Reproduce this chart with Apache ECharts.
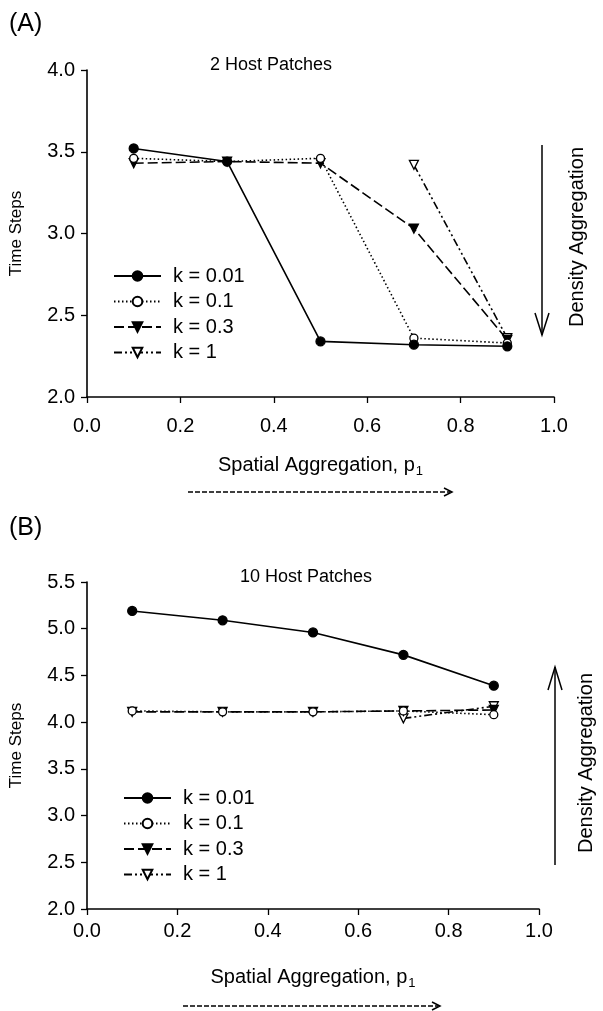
<!DOCTYPE html>
<html>
<head>
<meta charset="utf-8">
<script src="https://cdn.jsdelivr.net/npm/echarts@6/dist/echarts.min.js"></script>
<style>html,body{margin:0;padding:0;background:#fff;}#c{width:603px;height:1011px;}</style>
</head>
<body>
<div id="c"></div>
<script>
// ---- data ----
var xValues = [0.1, 0.3, 0.5, 0.7, 0.9];
var seriesNames = ['k = 0.01', 'k = 0.1', 'k = 0.3', 'k = 1'];
// Panel A: 2 Host Patches
var a_k001 = [3.52, 3.44, 2.34, 2.32, 2.31];
var a_k01  = [3.46, 3.44, 3.46, 2.36, 2.33];
var a_k03  = [3.43, 3.44, 3.43, 3.03, 2.35];
var a_k1   = [null, null, null, 3.42, 2.36];
// Panel B: 10 Host Patches
var b_k001 = [5.19, 5.09, 4.96, 4.72, 4.39];
var b_k01  = [4.12, 4.11, 4.11, 4.12, 4.08];
var b_k03  = [4.11, 4.11, 4.11, 4.12, 4.13];
var b_k1   = [null, null, null, 4.04, 4.17];

var FONT = 'Liberation Sans, Arial, sans-serif';

function pairs(vals){
  return xValues.map(function(x,i){ return vals[i]==null ? null : [x, vals[i]]; }).filter(function(p){return p;});
}

var styles = [
  {symbol:'circle', size:9, fill:'#000', dash:'solid'},
  {symbol:'circle', size:8, fill:'#fff', dash:[1.5,2.5]},
  {symbol:'triangle', size:9, fill:'#000', dash:[10,4]},
  {symbol:'triangle', size:9, fill:'#fff', dash:[8,3,2,3,2,3]}
];

function mkSeries(name, idx, vals, axisIdx){
  var s = styles[idx];
  return {
    name: name, type:'line', xAxisIndex:axisIdx, yAxisIndex:axisIdx,
    data: pairs(vals),
    symbol: s.symbol, symbolSize: s.size,
    symbolRotate: s.symbol==='triangle' ? 180 : 0,
    showAllSymbol: true,
    lineStyle: {color:'#000', width:1.6, type: s.dash},
    itemStyle: {color: s.fill, borderColor:'#000', borderWidth:1.3},
    emphasis: {disabled:true},
    animation:false,
    z: 10 - idx
  };
}

var series = [];
[a_k001,a_k01,a_k03,a_k1].forEach(function(v,i){ series.push(mkSeries(seriesNames[i], i, v, 0)); });
[b_k001,b_k01,b_k03,b_k1].forEach(function(v,i){ series.push(mkSeries(seriesNames[i], i, v, 1)); });

function xAxisCfg(grid, margin, nameGap){
  return {
    type:'value', gridIndex:grid, min:0, max:1, interval:0.2,
    axisLine:{show:true, onZero:false, lineStyle:{color:'#000', width:1.6}},
    axisTick:{show:true, inside:false, length:6, lineStyle:{color:'#000', width:1.3}},
    axisLabel:{color:'#000', fontSize:20, fontFamily:FONT, margin:margin,
      formatter:function(v){ return v.toFixed(1); }},
    splitLine:{show:false},
    name:'Spatial Aggregation, p{sub|1}', nameLocation:'middle', nameGap:nameGap,
    nameTextStyle:{color:'#000', fontSize:20, fontFamily:FONT,
      rich:{sub:{fontSize:13, fontFamily:FONT, color:'#000', padding:[12,0,0,1]}}}
  };
}
function yAxisCfg(grid, min, max){
  return {
    type:'value', gridIndex:grid, min:min, max:max, interval:0.5,
    axisLine:{show:true, onZero:false, lineStyle:{color:'#000', width:1.6}},
    axisTick:{show:true, inside:false, length:6, lineStyle:{color:'#000', width:1.3}},
    axisLabel:{color:'#000', fontSize:20, fontFamily:FONT, margin:12,
      formatter:function(v){ return v.toFixed(1); }},
    splitLine:{show:false},
    name:'Time Steps', nameLocation:'middle', nameGap:62,
    nameTextStyle:{color:'#000', fontSize:17, fontFamily:FONT}
  };
}

function legendCfg(left, top){
  return {
    orient:'vertical', left:left, top:top, padding:0,
    data: seriesNames,
    itemWidth:47, itemHeight:12, itemGap:5.5,
    selectedMode:false,
    textStyle:{color:'#000', fontSize:20, fontFamily:FONT, padding:[0,0,0,7]}
  };
}

function arrowChevron(x, y){ // right-pointing chevron at tip (x,y)
  return {type:'polyline', shape:{points:[[x-8,y-4],[x,y],[x-8,y+4]]}, style:{stroke:'#000', lineWidth:1.5, fill:null}};
}

var graphic = [
  {type:'text', left:9, top:12, style:{text:'(A)', font:'25px '+FONT, fill:'#000'}},
  {type:'text', left:9, top:516, style:{text:'(B)', font:'25px '+FONT, fill:'#000'}},
  {type:'text', x:271, y:65, style:{text:'2 Host Patches', font:'18px '+FONT, fill:'#000', align:'center', verticalAlign:'middle'}},
  {type:'text', x:306, y:577, style:{text:'10 Host Patches', font:'18px '+FONT, fill:'#000', align:'center', verticalAlign:'middle'}},
  {type:'text', x:577, y:237, rotation:Math.PI/2, style:{text:'Density Aggregation', font:'20px '+FONT, fill:'#000', align:'center', verticalAlign:'middle'}},
  {type:'text', x:586, y:763, rotation:Math.PI/2, style:{text:'Density Aggregation', font:'20px '+FONT, fill:'#000', align:'center', verticalAlign:'middle'}},
  // panel A down arrow
  {type:'line', shape:{x1:542, y1:145, x2:542, y2:335}, style:{stroke:'#000', lineWidth:1.5}},
  {type:'polyline', shape:{points:[[535,313],[542,335],[549,313]]}, style:{stroke:'#000', lineWidth:1.5, fill:null}},
  // panel B up arrow
  {type:'line', shape:{x1:555, y1:667, x2:555, y2:865}, style:{stroke:'#000', lineWidth:1.5}},
  {type:'polyline', shape:{points:[[548,690],[555,667],[562,690]]}, style:{stroke:'#000', lineWidth:1.5, fill:null}},
  // dashed arrows under x axes
  {type:'line', shape:{x1:188, y1:492, x2:450, y2:492}, style:{stroke:'#000', lineWidth:1.3, lineDash:[5,2]}},
  arrowChevron(452, 492),
  {type:'line', shape:{x1:183, y1:1006, x2:438, y2:1006}, style:{stroke:'#000', lineWidth:1.3, lineDash:[5,2]}},
  arrowChevron(440, 1006)
];

var option = {
  backgroundColor:'#fff',
  animation:false,
  grid:[
    {left:84, top:70, width:470, height:327, containLabel:false},
    {left:84, top:582, width:455, height:327, containLabel:false}
  ],
  xAxis:[xAxisCfg(0, 19, 56), xAxisCfg(1, 12, 56)],
  yAxis:[yAxisCfg(0, 2, 4), yAxisCfg(1, 2, 5.5)],
  legend:[legendCfg(113, 266), legendCfg(123, 788)],
  series: series,
  graphic: graphic
};

var chart = echarts.init(document.getElementById('c'), null, {renderer:'canvas'});
chart.setOption(option);
</script>
</body>
</html>
